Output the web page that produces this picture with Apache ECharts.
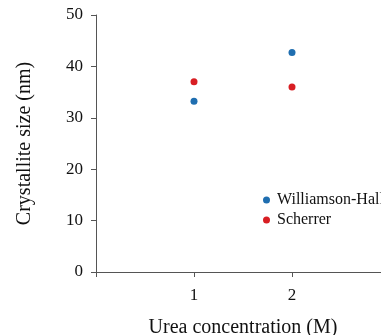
<!DOCTYPE html>
<html lang="en">
<head>
    <meta charset="UTF-8">
    <script src="https://cdn.jsdelivr.net/npm/echarts@6/dist/echarts.min.js"></script>
    <title>Crystallite size</title>
    <style>
        html, body { margin: 0; padding: 0; background: #fff; }
        #chart { width: 381px; height: 335px; }
    </style>
</head>
<body>
<div id="chart"></div>
<script>
    // data
    let seriesNames = ['Williamson-Hall', 'Scherrer'];
    let ureaConc = [1, 2];
    let whSize = [33.2, 42.7];
    let scherrerSize = [37, 36];
    let colors = ['#1f6eb0', '#d81e23'];

    let font = 'Liberation Serif, Times New Roman, serif';

    function pairs(xs, ys) {
        return xs.map((x, i) => [x, ys[i]]);
    }

    var myChart = echarts.init(document.getElementById('chart'));
    myChart.setOption({
        animation: false,
        color: colors,
        textStyle: { fontFamily: font },
        grid: { left: 96, top: 15, right: -9, bottom: 63, outerBoundsMode: 'none' },
        legend: {
            orient: 'vertical',
            left: 258,
            top: 187,
            icon: 'circle',
            itemWidth: 7,
            itemHeight: 7,
            itemGap: 4,
            textStyle: { fontFamily: font, fontSize: 16, color: '#111', padding: [0, 0, 0, 2] },
            data: seriesNames
        },
        xAxis: {
            type: 'value',
            min: 0,
            max: 3,
            interval: 1,
            name: 'Urea concentration (M)',
            nameLocation: 'middle',
            nameGap: 46,
            nameTextStyle: { fontFamily: font, fontSize: 20, color: '#111' },
            axisLine: { lineStyle: { color: '#555' } },
            axisTick: { show: true, length: 5, lineStyle: { color: '#555' } },
            axisLabel: {
                margin: 15,
                fontFamily: font,
                fontSize: 17,
                color: '#111',
                formatter: v => (v === 1 || v === 2) ? String(v) : ''
            },
            splitLine: { show: false }
        },
        yAxis: {
            type: 'value',
            min: 0,
            max: 50,
            interval: 10,
            name: 'Crystallite size (nm)',
            nameLocation: 'middle',
            nameGap: 61,
            nameTextStyle: { fontFamily: font, fontSize: 20, color: '#111' },
            axisLine: { show: true, lineStyle: { color: '#555' } },
            axisTick: { show: true, length: 5, lineStyle: { color: '#555' } },
            axisLabel: { margin: 13, fontFamily: font, fontSize: 17, color: '#111' },
            splitLine: { show: false }
        },
        series: [
            {
                name: seriesNames[0],
                type: 'scatter',
                symbolSize: 7,
                itemStyle: { opacity: 1 },
                data: pairs(ureaConc, whSize)
            },
            {
                name: seriesNames[1],
                type: 'scatter',
                symbolSize: 7,
                itemStyle: { opacity: 1 },
                data: pairs(ureaConc, scherrerSize)
            }
        ]
    });
</script>
</body>
</html>
